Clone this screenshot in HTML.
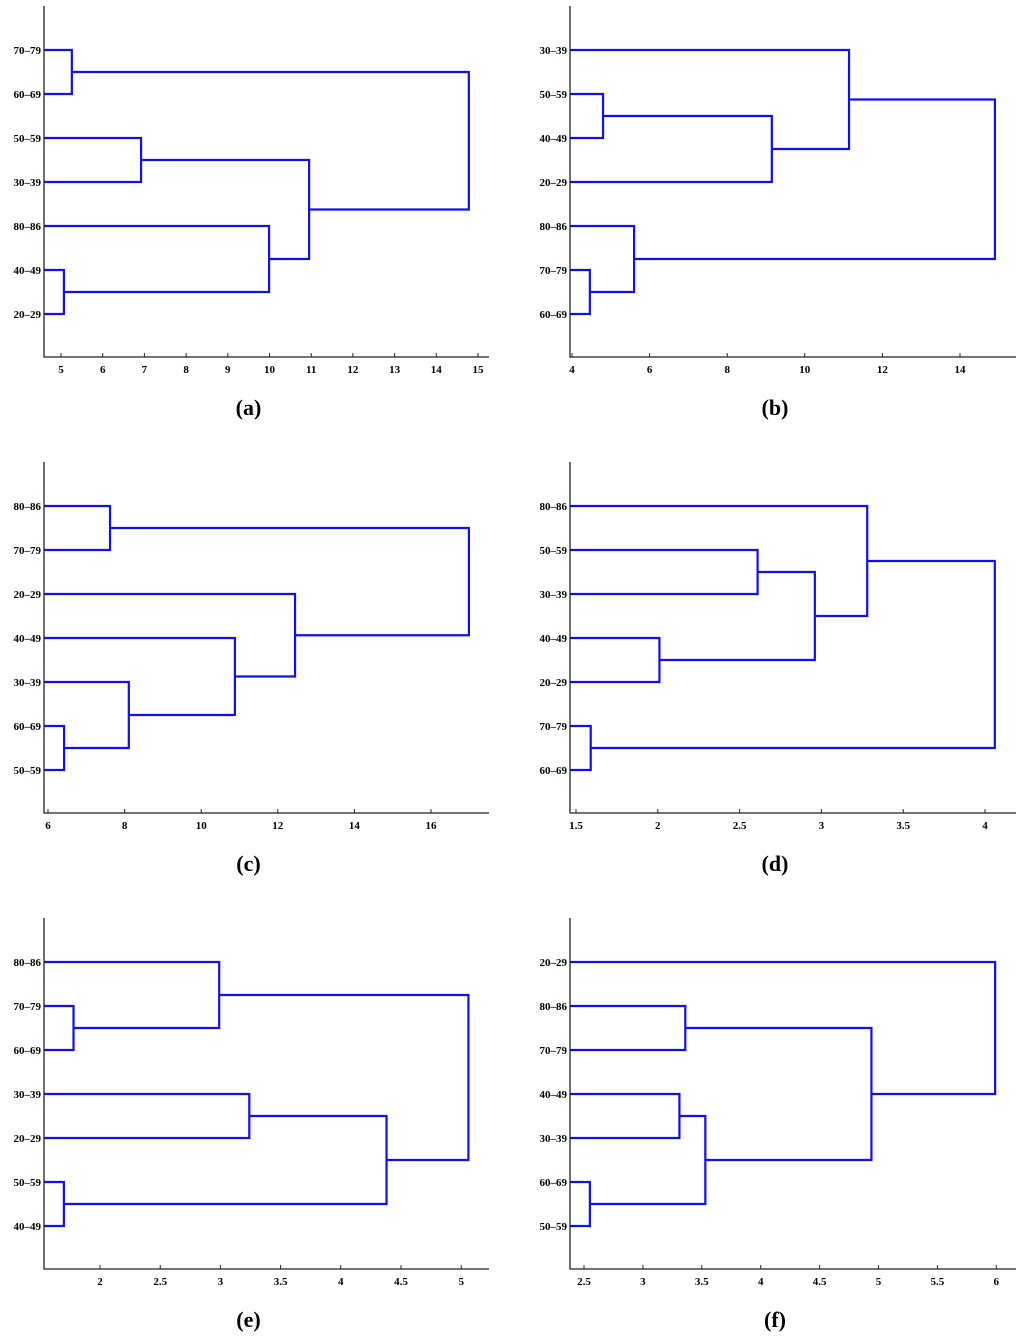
<!DOCTYPE html>
<html><head><meta charset="utf-8"><style>
body{margin:0;background:#fff}
svg{display:block}
text{font-family:"Liberation Serif",serif;font-weight:bold}
</style></head><body>
<svg id="chart" width="1024" height="1340" viewBox="0 0 1024 1340"></svg>
<script>
// Data: leaf labels (top to bottom), merges [childA, childB, height]; child < 100 = leaf index, >=100 = merge index+100
const labelsA=["70\u201379","60\u201369","50\u201359","30\u201339","80\u201386","40\u201349","20\u201329"];
const mergesA=[[0,1,5.26],[2,3,6.92],[5,6,5.07],[4,102,9.99],[101,103,10.95],[100,104,14.78]];
const ticksA=[5,6,7,8,9,10,11,12,13,14,15];
const labelsB=["30\u201339","50\u201359","40\u201349","20\u201329","80\u201386","70\u201379","60\u201369"];
const mergesB=[[1,2,4.8],[100,3,9.15],[0,101,11.14],[5,6,4.46],[4,103,5.6],[102,104,14.9]];
const ticksB=[4,6,8,10,12,14];
const labelsC=["80\u201386","70\u201379","20\u201329","40\u201349","30\u201339","60\u201369","50\u201359"];
const mergesC=[[0,1,7.62],[5,6,6.42],[4,101,8.11],[3,102,10.88],[2,103,12.45],[100,104,16.99]];
const ticksC=[6,8,10,12,14,16];
const labelsD=["80\u201386","50\u201359","30\u201339","40\u201349","20\u201329","70\u201379","60\u201369"];
const mergesD=[[1,2,2.61],[3,4,2.01],[100,101,2.96],[0,102,3.28],[5,6,1.59],[103,104,4.06]];
const ticksD=[1.5,2,2.5,3,3.5,4];
const labelsE=["80\u201386","70\u201379","60\u201369","30\u201339","20\u201329","50\u201359","40\u201349"];
const mergesE=[[1,2,1.78],[0,100,2.99],[3,4,3.24],[5,6,1.70],[102,103,4.38],[101,104,5.06]];
const ticksE=[2,2.5,3,3.5,4,4.5,5];
const labelsF=["20\u201329","80\u201386","70\u201379","40\u201349","30\u201339","60\u201369","50\u201359"];
const mergesF=[[1,2,3.36],[3,4,3.31],[5,6,2.55],[101,102,3.53],[100,103,4.94],[0,104,5.99]];
const ticksF=[2.5,3,3.5,4,4.5,5,5.5,6];

const NS="http://www.w3.org/2000/svg";
const svg=document.getElementById('chart');
function mk(tag,attrs,parent){const e=document.createElementNS(NS,tag);for(const k in attrs)e.setAttribute(k,attrs[k]);(parent||svg).appendChild(e);return e;}

function panel(id,ox,top,right,v0,px0,ppu,labels,merges,ticks){
  const g=mk('g',{});
  
  
  const bottom=top+351;
  const X=v=>px0+(v-v0)*ppu;
  const leafY=i=>top+44+i*44;
  const ax=mk('path',{d:`M${ox},${top}V${bottom}H${right}`,stroke:'#222',fill:'none','stroke-width':1.3},g);
  
  
  ticks.forEach(t=>{
    const x=X(t);
    const tk=mk('line',{x1:x,x2:x,y1:bottom,y2:bottom-4,stroke:'#222','stroke-width':1},g);
    
    
    const tl=mk('text',{x:x,y:bottom+16,'text-anchor':'middle','font-size':11},g);
    tl.textContent=String(t);
    
    
  });
  labels.forEach((l,i)=>{
    const t=mk('text',{x:ox-3,y:leafY(i)+4,'text-anchor':'end','font-size':11},g);
    t.textContent=l;
    
    
  });
  const nodes=[];
  const info=c=>c>=100?nodes[c-100]:{x:ox,y:leafY(c)};
  merges.forEach(m=>{
    const a=info(m[0]),b=info(m[1]);const x=X(m[2]);
    const p=mk('path',{d:`M${a.x},${a.y}H${x}V${b.y}H${b.x}`,stroke:'#1010ee',fill:'none','stroke-width':2.2},g);
    
    
    nodes.push({x:x,y:(a.y+b.y)/2});
  });
  const cap=mk('text',{x:(ox+right)/2-18,y:bottom+58,'text-anchor':'middle','font-size':22},g);
  cap.textContent='('+id+')';
  
  
}
panel('a',44,6,489,5,61,41.7,labelsA,mergesA,ticksA);
panel('b',570,6,1016,4,572,38.8,labelsB,mergesB,ticksB);
panel('c',44,462,489,6,48,38.3,labelsC,mergesC,ticksC);
panel('d',570,462,1016,1.5,576,163.6,labelsD,mergesD,ticksD);
panel('e',44,918,489,2,100,120.4,labelsE,mergesE,ticksE);
panel('f',570,918,1016,2.5,584,117.8,labelsF,mergesF,ticksF);
</script>
</body></html>
